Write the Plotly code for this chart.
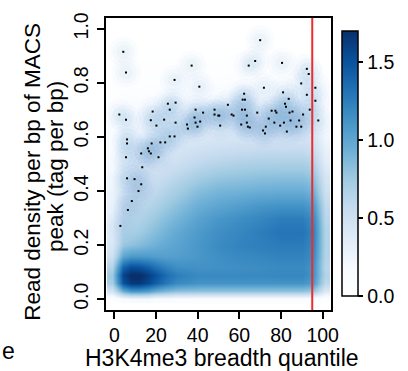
import plotly.graph_objects as go

# ---- density grid (colour-bar units) ----
grid_x = [-1, 4, 8, 12, 16, 20, 25, 30, 40, 50, 60, 70, 80, 90, 96, 101]
grid_y = [0.0, 0.03, 0.06, 0.09, 0.12, 0.16, 0.2, 0.25, 0.3, 0.35, 0.4, 0.45,
          0.5, 0.55, 0.6, 0.65, 0.7, 0.75, 0.8, 0.85, 0.9, 0.95, 1.0]
density = [
    [0.05, 0.15, 0.2, 0.2, 0.2, 0.15, 0.15, 0.12, 0.12, 0.12, 0.12, 0.12, 0.12, 0.12, 0.1, 0.05],
    [0.45, 0.95, 1.1, 1.1, 1.05, 0.95, 0.88, 0.82, 0.8, 0.8, 0.8, 0.8, 0.8, 0.8, 0.75, 0.4],
    [0.7, 1.5, 1.65, 1.65, 1.55, 1.42, 1.28, 1.18, 1.12, 1.12, 1.12, 1.12, 1.12, 1.12, 1.05, 0.6],
    [0.75, 1.58, 1.72, 1.72, 1.62, 1.5, 1.35, 1.25, 1.18, 1.18, 1.18, 1.18, 1.2, 1.2, 1.1, 0.65],
    [0.65, 1.4, 1.52, 1.5, 1.42, 1.32, 1.22, 1.15, 1.13, 1.14, 1.15, 1.16, 1.18, 1.18, 1.1, 0.62],
    [0.5, 1.0, 1.08, 1.08, 1.07, 1.05, 1.04, 1.05, 1.1, 1.15, 1.18, 1.2, 1.22, 1.22, 1.15, 0.65],
    [0.42, 0.78, 0.82, 0.85, 0.9, 0.94, 0.98, 1.02, 1.1, 1.17, 1.22, 1.24, 1.26, 1.26, 1.18, 0.66],
    [0.36, 0.66, 0.7, 0.74, 0.8, 0.85, 0.92, 0.98, 1.08, 1.15, 1.2, 1.25, 1.3, 1.3, 1.2, 0.66],
    [0.32, 0.6, 0.63, 0.66, 0.72, 0.77, 0.84, 0.9, 1.02, 1.1, 1.15, 1.2, 1.25, 1.25, 1.15, 0.62],
    [0.3, 0.55, 0.57, 0.6, 0.64, 0.68, 0.75, 0.82, 0.94, 1.0, 1.05, 1.1, 1.12, 1.12, 1.05, 0.58],
    [0.27, 0.5, 0.52, 0.54, 0.57, 0.6, 0.66, 0.72, 0.84, 0.9, 0.92, 0.95, 0.96, 0.96, 0.9, 0.5],
    [0.24, 0.44, 0.46, 0.48, 0.5, 0.53, 0.57, 0.62, 0.72, 0.78, 0.8, 0.82, 0.83, 0.83, 0.78, 0.44],
    [0.2, 0.38, 0.4, 0.42, 0.44, 0.46, 0.49, 0.52, 0.6, 0.65, 0.68, 0.7, 0.7, 0.7, 0.65, 0.36],
    [0.17, 0.32, 0.34, 0.36, 0.38, 0.4, 0.42, 0.45, 0.5, 0.53, 0.55, 0.57, 0.57, 0.57, 0.52, 0.3],
    [0.14, 0.27, 0.28, 0.3, 0.32, 0.34, 0.36, 0.38, 0.41, 0.43, 0.45, 0.46, 0.46, 0.46, 0.43, 0.24],
    [0.12, 0.24, 0.24, 0.25, 0.27, 0.3, 0.32, 0.33, 0.36, 0.38, 0.4, 0.4, 0.4, 0.4, 0.38, 0.2],
    [0.1, 0.2, 0.2, 0.2, 0.22, 0.25, 0.27, 0.28, 0.3, 0.32, 0.33, 0.34, 0.34, 0.34, 0.32, 0.17],
    [0.05, 0.1, 0.1, 0.1, 0.12, 0.14, 0.16, 0.17, 0.18, 0.2, 0.22, 0.23, 0.23, 0.23, 0.2, 0.1],
    [0.02, 0.05, 0.05, 0.05, 0.06, 0.07, 0.08, 0.1, 0.1, 0.1, 0.12, 0.12, 0.12, 0.12, 0.1, 0.05],
    [0.02, 0.05, 0.04, 0.03, 0.03, 0.03, 0.04, 0.05, 0.05, 0.04, 0.06, 0.06, 0.06, 0.06, 0.05, 0.02],
    [0.02, 0.04, 0.03, 0.02, 0.02, 0.02, 0.02, 0.02, 0.02, 0.02, 0.03, 0.04, 0.03, 0.03, 0.02, 0.01],
    [0, 0.02, 0.01, 0, 0, 0, 0, 0, 0, 0, 0.01, 0.03, 0.01, 0, 0, 0],
    [0, 0, 0, 0, 0, 0, 0, 0, 0, 0, 0, 0, 0, 0, 0, 0],
]

# ---- isolated points drawn by smoothScatter ----
pts_x = [4.3, 5.6, 37.1, 70.0, 64.5, 67.6, 80.5, 92.4, 93.3, 28.9, 40.8, 71.8, 89.7, 96.5,
         81.0, 62.3, 92.4, 61.6, 62.7, 96.5, 25.7, 29.4, 81.9, 83.7, 54.5, 82.4, 26.6, 39.0,
         48.1, 61.3, 62.7, 75.5, 77.3, 77.8, 93.8, 18.4, 2.4, 5.6, 42.6, 48.1, 49.9, 50.4,
         56.3, 57.2, 63.6, 68.6, 84.1, 85.5, 90.6, 17.5, 23.9, 20.2, 29.4, 34.9, 38.5, 39.0,
         39.9, 41.2, 35.3, 50.8, 60.9, 63.6, 64.1, 65.0, 71.4, 72.3, 72.7, 74.1, 76.8, 79.6,
         81.4, 82.8, 84.6, 87.4, 88.7, 89.7, 97.9, 26.6, 28.9, 22.1, 24.4, 17.9, 16.1, 16.6,
         17.5, 12.9, 21.2, 6.1, 6.1, 5.6, 13.4, 6.1, 9.7, 12.9, 11.6, 8.4, 6.5, 2.9]
pts_y = [0.915, 0.838, 0.864, 0.958, 0.864, 0.881, 0.874, 0.852, 0.833, 0.811, 0.786, 0.782,
         0.798, 0.782, 0.765, 0.760, 0.756, 0.738, 0.738, 0.734, 0.723, 0.727, 0.723, 0.741,
         0.719, 0.712, 0.701, 0.701, 0.701, 0.701, 0.701, 0.697, 0.697, 0.690, 0.701, 0.694,
         0.683, 0.664, 0.690, 0.683, 0.679, 0.679, 0.683, 0.679, 0.679, 0.690, 0.690, 0.694,
         0.683, 0.662, 0.664, 0.642, 0.653, 0.646, 0.672, 0.653, 0.638, 0.657, 0.631, 0.642,
         0.646, 0.653, 0.638, 0.635, 0.624, 0.613, 0.638, 0.668, 0.653, 0.642, 0.653, 0.620,
         0.661, 0.638, 0.661, 0.638, 0.661, 0.602, 0.602, 0.580, 0.580, 0.576, 0.558, 0.547,
         0.539, 0.539, 0.525, 0.591, 0.576, 0.525, 0.488, 0.447, 0.444, 0.425, 0.400, 0.363,
         0.330, 0.271]

cutoff_x = [95]

x_ticks = [0, 20, 40, 60, 80, 100]
y_ticks = [0.0, 0.2, 0.4, 0.6, 0.8, 1.0]
y_tick_text = ["0.0", "0.2", "0.4", "0.6", "0.8", "1.0"]
cb_ticks = [0.0, 0.5, 1.0, 1.5]
cb_tick_text = ["0.0", "0.5", "1.0", "1.5"]

x_title = "H3K4me3 breadth quantile"
y_title_1 = "Read density per bp of MACS"
y_title_2 = "peak (tag per bp)"

blues = ["#FFFFFF", "#F7FBFF", "#DEEBF7", "#C6DBEF", "#9ECAE1",
         "#6BAED6", "#4292C6", "#2171B5", "#08519C", "#08306B"]
colorscale = [[i / (len(blues) - 1), c] for i, c in enumerate(blues)]

FONT = "Liberation Sans, Arial, Helvetica, sans-serif"

fig = go.Figure()
fig.add_trace(go.Heatmap(
    x=grid_x, y=grid_y, z=density, zsmooth="best",
    colorscale=colorscale, zmin=0, zmax=1.7, hoverinfo="skip",
    colorbar=dict(
        x=1.0506, xanchor="left", xpad=0, ypad=0,
        y=0.5008, yanchor="middle", len=0.9066, lenmode="fraction",
        thickness=16, thicknessmode="pixels",
        outlinewidth=1.5, outlinecolor="black",
        tickvals=cb_ticks, ticktext=cb_tick_text,
        ticks="outside", ticklen=5, tickwidth=1.5, tickcolor="black",
        tickfont=dict(family=FONT, size=19.5, color="black"),
    ),
))
# soft, layered halos around isolated points (density smoothing look)
for size, alpha in [(30, 0.025), (22, 0.03), (14, 0.035)]:
    fig.add_trace(go.Scatter(
        x=pts_x, y=pts_y, mode="markers", hoverinfo="skip", showlegend=False,
        marker=dict(size=size, color=f"rgba(66,146,198,{alpha})", line=dict(width=0)),
    ))
fig.add_trace(go.Scatter(
    x=pts_x, y=pts_y, mode="markers", showlegend=False, hoverinfo="skip",
    marker=dict(size=2, symbol="square", color="black", line=dict(width=0)),
))

for cx in cutoff_x:
    fig.add_shape(type="line", x0=cx, x1=cx, xref="x", y0=0, y1=1, yref="paper",
                  line=dict(color="rgb(235,45,45)", width=2))

axis_common = dict(showgrid=False, zeroline=False, showline=True, mirror=True,
                   linecolor="black", linewidth=1.8, ticks="outside", ticklen=7,
                   tickwidth=1.5, tickcolor="black",
                   tickfont=dict(family=FONT, size=19.5, color="black"))
fig.update_xaxes(range=[-4, 104], tickvals=x_ticks, **axis_common)
fig.update_yaxes(range=[-0.04, 1.04], tickvals=y_ticks, ticktext=y_tick_text,
                 tickangle=-90, ticklabelstandoff=1, **axis_common)

ann_font = dict(family=FONT, size=22.5, color="black")
fig.add_annotation(text=x_title, xref="paper", yref="paper", x=0.517, y=-0.163,
                   xanchor="center", yanchor="middle", showarrow=False,
                   font=dict(family=FONT, size=23, color="black"))
fig.add_annotation(text=y_title_1, xref="paper", yref="paper", x=-0.327, y=0.475,
                   xanchor="center", yanchor="middle", textangle=-90, showarrow=False,
                   font=ann_font)
fig.add_annotation(text=y_title_2, xref="paper", yref="paper", x=-0.2215, y=0.49,
                   xanchor="center", yanchor="middle", textangle=-90, showarrow=False,
                   font=ann_font)
# fragment of neighbouring panel's label
fig.add_annotation(text="e", xref="paper", yref="paper", x=-0.4346, y=-0.139,
                   xanchor="center", yanchor="middle", showarrow=False,
                   font=dict(family=FONT, size=23, color="black"))

fig.update_layout(
    width=408, height=371,
    margin=dict(l=106, r=65, t=15, b=61, pad=0),
    paper_bgcolor="white", plot_bgcolor="white",
    showlegend=False,
    font=dict(family=FONT, color="black"),
)

fig.write_html("out.html", config={"displayModeBar": False},
               post_script="document.body.style.margin='0';document.body.style.padding='0';")
